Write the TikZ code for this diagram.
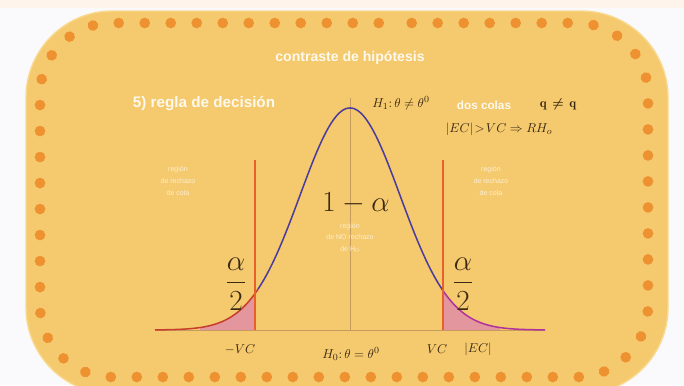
\documentclass[tikz,border=0pt]{standalone}
\usepackage{amsmath}
\usepackage{fontspec}
\setsansfont{Liberation Sans}
\usetikzlibrary{decorations.markings}
\definecolor{PageWhite}{HTML}{FAFAFC}
\definecolor{PageBand}{HTML}{FFF4EC}
\definecolor{PanelFill}{HTML}{F5C96D}
\definecolor{PanelEdge}{HTML}{F8D98F}
\definecolor{DotFill}{HTML}{EE9131}
\definecolor{AxisTan}{HTML}{C69C5E}
\definecolor{CritOrange}{HTML}{E9602B}
\definecolor{BellBlue}{HTML}{4B3C9E}
\definecolor{TailRed}{HTML}{C63F2E}
\definecolor{TailMagenta}{HTML}{B0339B}
\definecolor{TailPink}{HTML}{DE86AE}
\definecolor{PlotInk}{HTML}{3A2A12}
\tikzset{
  every node/.style={text=PlotInk, inner sep=0pt},
  panel/.style={fill=PanelFill, draw=PanelEdge, line width=1.2pt, rounded corners=2.6cm},
  dotrim/.style={decorate, decoration={markings,
      mark=between positions 0 and 0.99 step 0.78cm with {\fill[DotFill] (0,0) circle (0.16cm);}}},
  axisline/.style={draw=AxisTan, line width=0.5pt},
  critline/.style={draw=CritOrange, line width=2.2pt},
  bell/.style={draw=BellBlue, line width=1.3pt},
  tailarea/.style={fill=TailPink, fill opacity=0.75},
  heading/.style={font=\sffamily\bfseries\fontsize{12}{14}\selectfont, text=white!88!PanelFill},
  whisper/.style={font=\sffamily\fontsize{6}{10}\selectfont, text=white!70!PanelFill, align=center},
  formula/.style={font=\fontsize{11}{13}\selectfont},
  bigmath/.style={font=\fontsize{33}{38}\selectfont},
  halfmath/.style={font=\fontsize{24}{28}\selectfont},
  declare function={bell(\t)=330-222*exp(-0.5*((\t-350)/50)*((\t-350)/50));},
}
\begin{document}
\begin{tikzpicture}[x=0.03cm,y=-0.03cm]
  \useasboundingbox (0,0) rectangle (684,385);

  % page and rounded panel with dotted rim
  \fill[PageWhite] (0,0) rectangle (684,385);
  \fill[PageBand] (0,0) rectangle (684,8);
  \begin{scope}
    \clip (0,0) rectangle (684,385);
    \draw[panel] (26,11) rectangle (668,394);
    \path[dotrim, rounded corners=2.15cm]
      (340,23) -- (648,23) -- (648,377) -- (40,377) -- (40,23) -- cycle;
  \end{scope}

  % axes
  \draw[axisline] (155,330) -- (545,330);
  \draw[axisline] (350,98) -- (350,330);

  % rejection tails
  \fill[tailarea] (200,330) -- plot[domain=200:255, samples=30] (\x,{bell(\x)}) -- (255,330) -- cycle;
  \fill[tailarea] (443,330) -- plot[domain=443:500, samples=30] (\x,{bell(\x)}) -- (500,330) -- cycle;

  % density curve
  \draw[bell, draw=TailRed] plot[domain=155:258, samples=60] (\x,{bell(\x)});
  \draw[bell] plot[domain=258:443, samples=120] (\x,{bell(\x)});
  \draw[bell, draw=TailMagenta] plot[domain=443:545, samples=60] (\x,{bell(\x)});

  % critical values
  \draw[critline] (255,160) -- (255,330);
  \draw[critline] (443,160) -- (443,330);

  % headings
  \node[heading] (title) at (350,58) {contraste de hipótesis};
  \node[heading, font=\sffamily\bfseries\fontsize{13}{15}\selectfont] (step) at (204,104) {5) regla de decisión};
  \node[heading, font=\sffamily\bfseries\fontsize{10}{12}\selectfont] (tails) at (484,105) {dos colas};
  \node[formula] (signs) at (558,104) {$\mathbf{q}\,\boldsymbol{\neq}\,\mathbf{q}$};

  % hypotheses and rule
  \node[formula] (alt) at (401,103) {$H_1{:}\,\theta\neq\theta^0$};
  \node[formula] (rule) at (499,129) {$|EC|\!>\!VC\Rightarrow RH_o$};
  \node[formula] (null) at (351,354) {$H_0{:}\,\theta=\theta^0$};

  % region notes
  \node[whisper] (leftnote) at (178,181) {región\\de rechazo\\de cola};
  \node[whisper] (rightnote) at (491,181) {región\\de rechazo\\de cola};
  \node[whisper] (midnote) at (350,238) {región\\de NO rechazo\\de H$_0$};

  % probabilities
  \node[bigmath] (keep) at (356,203) {$1-\alpha$};
  \node[halfmath] (leftalpha) at (236,284) {$\dfrac{\alpha}{2}$};
  \node[halfmath] (rightalpha) at (463,284) {$\dfrac{\alpha}{2}$};

  % critical value labels
  \node[formula] (minusvc) at (240,350) {$-VC$};
  \node[formula] (plusvc) at (437,349) {$VC$};
  \node[formula] (stat) at (478,349) {$|EC|$};
\end{tikzpicture}
\end{document}
